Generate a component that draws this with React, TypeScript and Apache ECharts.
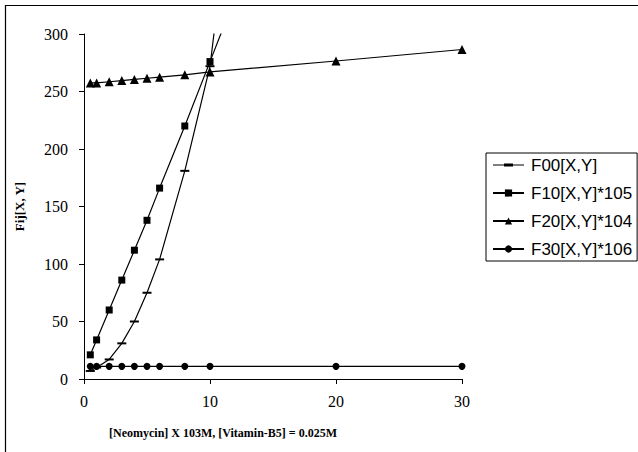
import React, { useEffect, useRef } from "react";
import * as echarts from "echarts";

const xValues = [0.5, 1, 2, 3, 4, 5, 6, 8, 10, 20, 30];
const f00 = [7, 10, 17, 31, 50, 75, 104, 181, 272, 1172, null];
const f10 = [21, 34, 60, 86, 112, 138, 166, 220, 276, 556, null];
const f20 = [257.5, 257.5, 258.5, 259.5, 260.5, 261.5, 262.5, 264.5, 267, 276.5, 286.5];
const f30 = [11, 11, 11, 11, 11, 11, 11, 11, 11, 11, 11];
const seriesNames = ["F00[X,Y]", "F10[X,Y]*105", "F20[X,Y]*104", "F30[X,Y]*106"];
const xTicks = { min: 0, max: 30, interval: 10 };
const yTicks = { min: 0, max: 300, interval: 50 };

const pairs = (ys: (number | null)[]) => xValues.map((x, i) => [x, ys[i]]);

export default function App() {
  const ref = useRef<HTMLDivElement>(null);
  useEffect(() => {
    document.body.style.margin = "0";
    const chart = echarts.init(ref.current!, null, { renderer: "svg" });
    const serif = "Liberation Serif";
    const base = {
      type: "line",
      clip: true,
      lineStyle: { color: "#000", width: 1.2 },
      itemStyle: { color: "#000" },
      emphasis: { disabled: true },
    };
    chart.setOption({
      animation: false,
      backgroundColor: "#fff",
      grid: { left: 84, top: 34, right: 176, bottom: 73 },
      xAxis: {
        type: "value",
        ...xTicks,
        splitLine: { show: false },
        axisLine: { lineStyle: { color: "#000", width: 1 } },
        axisTick: { length: 5, lineStyle: { color: "#000" } },
        axisLabel: { color: "#000", fontFamily: serif, fontSize: 16, margin: 14 },
      },
      yAxis: {
        type: "value",
        ...yTicks,
        splitLine: { show: false },
        axisLine: { show: true, lineStyle: { color: "#000", width: 1 } },
        axisTick: { show: true, length: 5, lineStyle: { color: "#000" } },
        axisLabel: { color: "#000", fontFamily: serif, fontSize: 16, margin: 16 },
        name: "Fij[X, Y]",
        nameLocation: "middle",
        nameRotate: 90,
        nameGap: 58,
        nameTextStyle: { color: "#000", fontFamily: serif, fontSize: 13, fontWeight: "bold" },
      },
      legend: {
        orient: "vertical",
        left: 486,
        top: 153,
        padding: [3, 5, 3, 6],
        borderColor: "#000",
        borderWidth: 1,
        borderRadius: 0,
        itemWidth: 31,
        itemHeight: 9,
        itemGap: 10,
        symbolKeepAspect: true,
        textStyle: {
          color: "#000",
          fontFamily: "Liberation Sans",
          fontSize: 17,
          lineHeight: 18,
          padding: [0, 0, 0, 2],
        },
        data: [
          { name: seriesNames[0], icon: "path://M0 1H31V2H0Z M11 0H20V3H11Z" },
          seriesNames[1],
          seriesNames[2],
          seriesNames[3],
        ],
      },
      graphic: [
        {
          type: "rect",
          shape: { x: 5.5, y: 5.5, width: 700, height: 500 },
          style: { fill: "none", stroke: "#000", lineWidth: 1.2 },
          silent: true,
        },
        {
          type: "text",
          x: 223,
          y: 433,
          style: {
            text: "[Neomycin] X 103M, [Vitamin-B5] = 0.025M",
            fontFamily: serif,
            fontSize: 12,
            fontWeight: "bold",
            fill: "#000",
            textAlign: "center",
            textVerticalAlign: "middle",
          },
        },
      ],
      series: [
        { ...base, name: seriesNames[0], data: pairs(f00), symbol: "rect", symbolSize: [9, 2] },
        { ...base, name: seriesNames[1], data: pairs(f10), symbol: "rect", symbolSize: 7 },
        { ...base, name: seriesNames[2], data: pairs(f20), symbol: "triangle", symbolSize: 9 },
        { ...base, name: seriesNames[3], data: pairs(f30), symbol: "circle", symbolSize: 7 },
      ],
    });
    return () => chart.dispose();
  }, []);
  return <div ref={ref} style={{ width: 638, height: 452 }} />;
}
